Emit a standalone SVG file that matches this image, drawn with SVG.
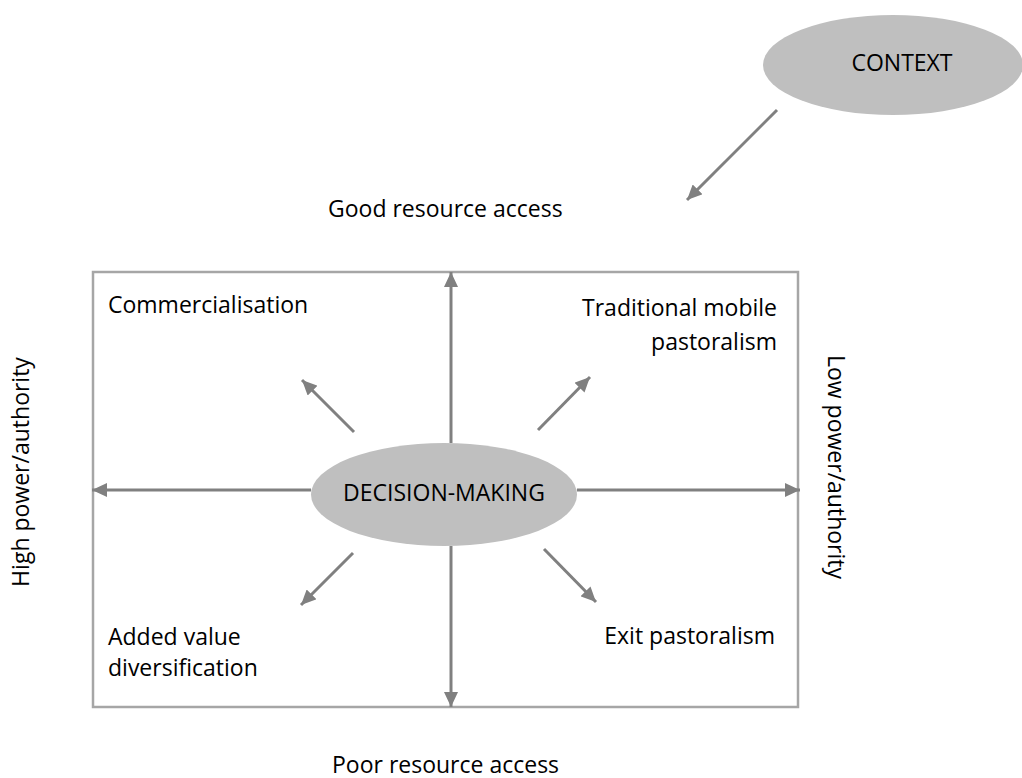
<svg xmlns="http://www.w3.org/2000/svg" width="1022" height="778" viewBox="0 0 1022 778">
<style>
text{font-family:"Open Sans","Noto Sans",sans-serif;font-size:23px;fill:#000}
.ax{stroke:#808080;stroke-width:3;fill:none;marker-end:url(#ah)}
.el{fill:#bfbfbf}
</style>
<defs>
<marker id="ah" markerUnits="userSpaceOnUse" markerWidth="16" markerHeight="14" refX="15" refY="7" orient="auto">
<path d="M0,0 L15,7 L0,14 z" fill="#808080"/>
</marker>
</defs>
<rect x="0" y="0" width="1022" height="778" fill="#fff"/>
<g id="frame"><rect x="93" y="272" width="705" height="435" fill="none" stroke="#a6a6a6" stroke-width="2.5"/></g>
<g id="connectors">
<line class="ax" x1="777" y1="110" x2="687" y2="200"/>
<line class="ax" x1="451" y1="443" x2="451" y2="272"/>
<line class="ax" x1="451" y1="546" x2="451" y2="707"/>
<line class="ax" x1="311" y1="490" x2="92" y2="490"/>
<line class="ax" x1="577" y1="490" x2="800" y2="490"/>
<line class="ax" x1="354" y1="432" x2="302" y2="380"/>
<line class="ax" x1="538" y1="430" x2="590" y2="377"/>
<line class="ax" x1="353" y1="553" x2="301" y2="605"/>
<line class="ax" x1="544" y1="549" x2="596" y2="602"/>
</g>
<g id="context"><ellipse class="el" cx="893" cy="65" rx="130" ry="50"/><text x="902" y="71" text-anchor="middle">CONTEXT</text></g>
<g id="decision"><ellipse class="el" cx="444" cy="494.5" rx="133" ry="51.5"/><text x="444" y="501" text-anchor="middle">DECISION-MAKING</text></g>
<g id="good"><text x="328" y="217">Good resource access</text></g>
<g id="poor"><text x="332" y="773">Poor resource access</text></g>
<g id="commercialisation"><text x="108" y="313">Commercialisation</text></g>
<g id="traditional"><text x="777" y="316" text-anchor="end">Traditional mobile</text><text x="777" y="350" text-anchor="end">pastoralism</text></g>
<g id="added"><text x="108" y="645">Added value</text><text x="108" y="676">diversification</text></g>
<g id="exit"><text x="775" y="644" text-anchor="end">Exit pastoralism</text></g>
<g id="high"><text transform="translate(29,472) rotate(-90)" text-anchor="middle">High power/authority</text></g>
<g id="low"><text transform="translate(828,467) rotate(90)" text-anchor="middle">Low power/authority</text></g>
</svg>
